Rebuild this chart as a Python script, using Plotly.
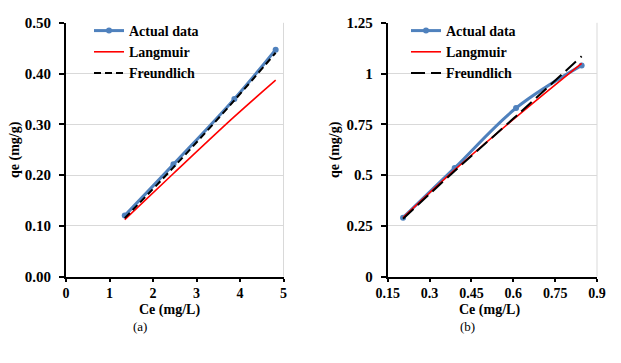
import plotly.graph_objects as go

# ---- data (a) ----
ce_a = [1.35, 2.47, 3.87, 4.82]
qe_actual_a = [0.120, 0.221, 0.350, 0.447]
qe_lang_a = [0.112, 0.203, 0.315, 0.387]
qe_freund_a = [0.115, 0.215, 0.347, 0.441]

# ---- data (b) ----
ce_b = [0.205, 0.39, 0.61, 0.845]
qe_actual_b = [0.29, 0.535, 0.83, 1.04]
qe_lang_b = [0.29, 0.525, 0.785, 1.05]
qe_freund_b = [0.285, 0.52, 0.79, 1.085]

xticks_b = [0.15, 0.3, 0.45, 0.6, 0.75, 0.9]
xticktext_b = ["0.15", "0.3", "0.45", "0.6", "0.75", "0.9"]
yticks_b = [0, 0.25, 0.5, 0.75, 1, 1.25]
yticktext_b = ["0", "0.25", "0.5", "0.75", "1", "1.25"]

BLUE = "#4f81bd"
FONT = "Liberation Serif, Times New Roman, serif"

# page body has an 8px margin: figure is 605x347 so it fits the 621x363 window
W, H, OFF = 605, 347, 8
def px(x):  # page px -> paper x
    return (x - OFF) / W
def py(y):  # page px -> paper y
    return 1 - (y - OFF) / H

fig = go.Figure()

def add_set(x, ya, yl, yf, xa, ya_name, legend, dash):
    fig.add_trace(go.Scatter(x=x, y=ya, name="Actual data", mode="lines+markers",
                             line=dict(color=BLUE, width=3, shape="spline"),
                             marker=dict(color=BLUE, size=6),
                             xaxis=xa, yaxis=ya_name, legend=legend))
    fig.add_trace(go.Scatter(x=x, y=yl, name="Langmuir", mode="lines",
                             line=dict(color="#ff0000", width=1.6, shape="spline"),
                             xaxis=xa, yaxis=ya_name, legend=legend))
    fig.add_trace(go.Scatter(x=x, y=yf, name="Freundlich", mode="lines",
                             line=dict(color="#000000", width=2, dash=dash, shape="spline"),
                             xaxis=xa, yaxis=ya_name, legend=legend))

add_set(ce_a, qe_actual_a, qe_lang_a, qe_freund_a, "x", "y", "legend", "7px,4px")
add_set(ce_b, qe_actual_b, qe_lang_b, qe_freund_b, "x2", "y2", "legend2", "14px,6px")

tickfont = dict(family=FONT, size=15, color="black", weight="bold")
xtickfont = dict(family=FONT, size=14, color="black", weight="bold")
titlefont = dict(family=FONT, size=14, color="black", weight="bold")
legfont = dict(family=FONT, size=14, color="black", weight="bold")

ax_common = dict(showline=True, linecolor="black", linewidth=2, ticks="outside",
                 tickcolor="black", tickwidth=2,
                 zeroline=False, automargin=False)

YDOM = [py(276.5), py(22.8)]
fig.update_layout(
    width=W, height=H, margin=dict(l=0, r=0, t=0, b=0),
    paper_bgcolor="white", plot_bgcolor="white",
    font=dict(family=FONT),
    xaxis=dict(domain=[px(66), px(283.5)], range=[0, 5], dtick=1, showgrid=False,
               tickfont=xtickfont, ticklen=3, **ax_common),
    yaxis=dict(domain=YDOM, range=[0, 0.5], dtick=0.1, tickformat=".2f",
               showgrid=True, gridcolor="#d9d9d9", gridwidth=1, ticklabelstandoff=5,
               tickfont=tickfont, ticklen=5, **ax_common),
    xaxis2=dict(domain=[px(387.7), px(597)], range=[0.15, 0.9], tickvals=xticks_b,
                ticktext=xticktext_b, showgrid=False, anchor="y2",
                tickfont=xtickfont, ticklen=3, **ax_common),
    yaxis2=dict(domain=YDOM, range=[0, 1.25], tickvals=yticks_b, ticktext=yticktext_b,
                showgrid=True, gridcolor="#d9d9d9", gridwidth=1, anchor="x2",
                ticklabelstandoff=5, tickfont=tickfont, ticklen=5, **ax_common),
    legend=dict(x=px(89), y=py(15), xanchor="left", yanchor="top",
                bgcolor="rgba(0,0,0,0)", tracegroupgap=0, font=legfont),
    legend2=dict(x=px(406), y=py(15), xanchor="left", yanchor="top",
                 bgcolor="rgba(0,0,0,0)", tracegroupgap=0, font=legfont),
    showlegend=True,
)

# light grey plot-area right border
for xref, yref in [("x domain", "y domain"), ("x2 domain", "y2 domain")]:
    fig.add_shape(type="line", xref=xref, yref=yref, x0=1, x1=1, y0=0, y1=1,
                  line=dict(color="#d9d9d9", width=1))

# axis titles
for txt, x, y, ang in [("Ce (mg/L)", 169, 310, 0), ("Ce (mg/L)", 489, 310, 0),
                       ("qe (mg/g)", 15, 150, -90), ("qe (mg/g)", 335, 150, -90)]:
    fig.add_annotation(text=txt, x=px(x), y=py(y), xref="paper", yref="paper",
                       xanchor="center", yanchor="middle",
                       showarrow=False, textangle=ang, font=titlefont)

for txt, x in [("(a)", 140), ("(b)", 467)]:
    fig.add_annotation(text=txt, x=px(x), y=py(326), xref="paper", yref="paper",
                       xanchor="center", yanchor="middle", showarrow=False,
                       font=dict(family=FONT, size=13, color="black"))

fig.write_html("out.html")
